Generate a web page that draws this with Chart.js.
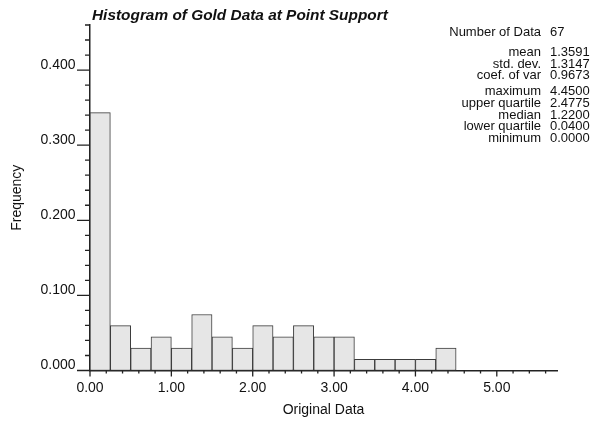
<!DOCTYPE html>
<html lang="en">
<head>
<meta charset="UTF-8">
<title>Histogram of Gold Data at Point Support</title>
<script src="https://cdn.jsdelivr.net/npm/chart.js"></script>
<style>
  html, body { margin: 0; padding: 0; background: #fff; }
  #wrap { width: 592px; height: 430px; }
</style>
</head>
<body>
<div id="wrap"><canvas id="histChart"></canvas></div>
<script>
// class centres (classes are 0.25 wide, starting at 0.00)
const classCentres = [0.125, 0.375, 0.625, 0.875, 1.125, 1.375, 1.625, 1.875, 2.125,
                      2.375, 2.625, 2.875, 3.125, 3.375, 3.625, 3.875, 4.125, 4.375];
// relative frequency of each class (67 data)
const frequencies = [0.3433, 0.0597, 0.0299, 0.0448, 0.0299, 0.0746, 0.0448, 0.0299, 0.0597,
                     0.0448, 0.0597, 0.0448, 0.0448, 0.0149, 0.0149, 0.0149, 0.0149, 0.0299];

const xTickValues = [0, 1, 2, 3, 4, 5];
const yTickValues = [0, 0.1, 0.2, 0.3, 0.4];

const statNames  = ['Number of Data', 'mean', 'std. dev.', 'coef. of var',
                    'maximum', 'upper quartile', 'median', 'lower quartile', 'minimum'];
const statValues = ['67', '1.3591', '1.3147', '0.9673',
                    '4.4500', '2.4775', '1.2200', '0.0400', '0.0000'];
const statBaselines = [36, 56, 67.5, 79, 95, 107, 118.5, 130, 141.5];

const FONT = '"Liberation Sans", Arial, Helvetica, sans-serif';
const INK = '#222';

// minor/major tick marks drawn outside the axes, plus title and stats block
const decorations = {
    id: 'decorations',
    afterDraw(chart) {
        const ctx = chart.ctx;
        const xs = chart.scales.x, ys = chart.scales.y;
        const area = chart.chartArea;
        ctx.save();
        ctx.strokeStyle = INK;
        ctx.lineWidth = 1.3;
        ctx.beginPath();
        for (let i = 0; i <= Math.round(ys.max / 0.02); i++) {
            const v = i * 0.02;
            const py = ys.getPixelForValue(v);
            const len = (i % 5 === 0) ? 13 : 5;
            ctx.moveTo(area.left, py);
            ctx.lineTo(area.left - len, py);
        }
        for (let i = 0; i <= Math.floor(xs.max / 0.2 + 1e-6); i++) {
            const v = i * 0.2;
            const px = xs.getPixelForValue(v);
            const len = (i % 5 === 0) ? 6 : 3;
            ctx.moveTo(px, area.bottom);
            ctx.lineTo(px, area.bottom + len);
        }
        ctx.stroke();

        ctx.fillStyle = '#111';
        ctx.font = 'italic bold 15.4px ' + FONT;
        ctx.textAlign = 'left';
        ctx.textBaseline = 'alphabetic';
        ctx.fillText('Histogram of Gold Data at Point Support', 92, 20);

        ctx.font = '13px ' + FONT;
        statNames.forEach((name, i) => {
            ctx.textAlign = 'right';
            ctx.fillText(name, 541, statBaselines[i]);
            ctx.textAlign = 'left';
            ctx.fillText(statValues[i], 550, statBaselines[i]);
        });
        ctx.restore();
    }
};

new Chart(document.getElementById('histChart'), {
    type: 'bar',
    data: {
        datasets: [{
            data: classCentres.map((c, i) => ({ x: c, y: frequencies[i] })),
            backgroundColor: '#e6e6e6',
            borderColor: '#3c3c3c',
            borderWidth: 1,
            borderSkipped: false,
            barPercentage: 1,
            categoryPercentage: 1
        }]
    },
    options: {
        responsive: true,
        maintainAspectRatio: false,
        animation: false,
        layout: { padding: { top: 25, right: 35, left: 0, bottom: 0 } },
        plugins: {
            legend: { display: false },
            tooltip: { enabled: false }
        },
        scales: {
            x: {
                type: 'linear',
                min: 0,
                max: 5.74,
                offset: false,
                afterFit: s => { s.height = 59.5; },
                afterBuildTicks: s => { s.ticks = xTickValues.map(v => ({ value: v })); },
                grid: { display: false, drawTicks: false, offset: false },
                border: { display: true, color: INK, width: 1.5 },
                ticks: {
                    padding: 9,
                    color: '#111',
                    font: { family: FONT, size: 14 },
                    callback: v => v.toFixed(2)
                },
                title: {
                    display: true,
                    text: 'Original Data',
                    color: '#111',
                    font: { family: FONT, size: 14 },
                    padding: { top: 0, bottom: 11 }
                }
            },
            y: {
                min: 0,
                max: 0.46,
                afterFit: s => { s.width = 90; },
                afterBuildTicks: s => { s.ticks = yTickValues.map(v => ({ value: v })); },
                grid: { display: false, drawTicks: false },
                border: { display: true, color: INK, width: 1.5 },
                ticks: {
                    padding: 14.5,
                    labelOffset: -5,
                    color: '#111',
                    font: { family: FONT, size: 14 },
                    callback: v => v.toFixed(3)
                },
                title: {
                    display: true,
                    text: 'Frequency',
                    color: '#111',
                    font: { family: FONT, size: 14 },
                    padding: { top: 8.5, bottom: 0 }
                }
            }
        }
    },
    plugins: [decorations]
});
</script>
</body>
</html>
